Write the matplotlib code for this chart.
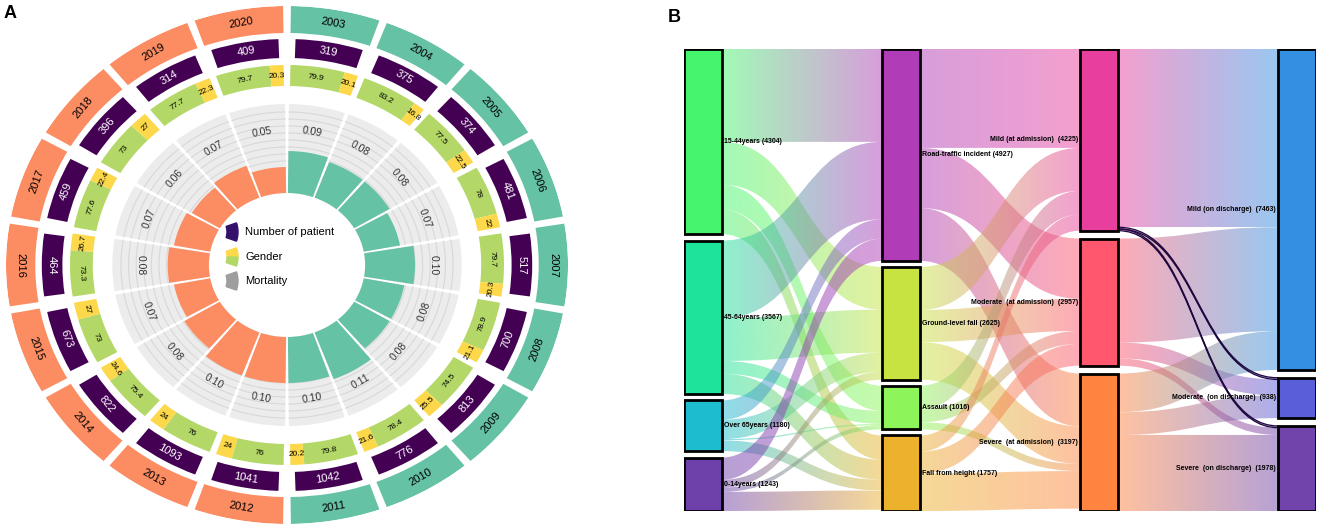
import numpy as np
import matplotlib.pyplot as plt
from matplotlib.path import Path
from matplotlib.patches import PathPatch, Rectangle, Wedge
from matplotlib.colors import to_rgb

plt.rcParams['font.family'] = ['Liberation Sans', 'DejaVu Sans']

# ---- panel A data ----
years = list(range(2003, 2021))
patients = [319, 375, 374, 481, 517, 700, 813, 776, 1042,
            1041, 1093, 822, 673, 464, 459, 396, 314, 409]
male = [79.9, 83.2, 77.5, 78, 79.7, 78.9, 74.5, 78.4, 79.8,
        76, 76, 75.4, 73, 73.3, 77.6, 73, 77.7, 79.7]
female = [20.1, 16.8, 22.5, 22, 20.3, 21.1, 25.5, 21.6, 20.2,
          24, 24, 24.6, 27, 26.7, 22.4, 27, 22.3, 20.3]
mortality = [0.09, 0.08, 0.08, 0.07, 0.10, 0.08, 0.08, 0.11, 0.10,
             0.10, 0.10, 0.08, 0.07, 0.08, 0.07, 0.06, 0.07, 0.05]

# ---- panel B data ----
age_names = ['15-44years', '45-64years', 'Over 65years', '0-14years']
age_vals = [4304, 3567, 1180, 1243]
cause_names = ['Road-traffic incident', 'Ground-level fall', 'Assault', 'Fall from height']
cause_vals = [4927, 2625, 1016, 1757]
adm_names = ['Mild (at admission) ', 'Moderate  (at admission) ', 'Severe  (at admission) ']
adm_vals = [4225, 2957, 3197]
dis_names = ['Mild (on discharge) ', 'Moderate  (on discharge) ', 'Severe  (on discharge) ']
dis_vals = [7463, 938, 1978]

# rows = source, cols = target
age_to_cause = [[2160, 995, 586, 563],
                [1800, 1000, 300, 467],
                [450, 450, 30, 250],
                [517, 180, 100, 446]]
cause_to_adm = [[2300, 1400, 1227],
                [1000, 750, 875],
                [550, 300, 166],
                [375, 507, 875]]
adm_to_dis = [[4145, 40, 40],
              [2418, 370, 169],
              [900, 528, 1769]]

node_colors = [['#45f56e', '#1ee39b', '#1dbdcf', '#6e40aa'],
               ['#b03cb8', '#c7e341', '#8df55a', '#ecb22e'],
               ['#e83f9e', '#fe576e', '#fe8440'],
               ['#348fe2', '#5a5ed8', '#7044ab']]

W, H = 1325, 529
fig = plt.figure(figsize=(W / 100, H / 100), dpi=100)


def px_axes(x0, y0, x1, y1, **kw):
    return fig.add_axes([x0 / W, 1 - y1 / H, (x1 - x0) / W, (y1 - y0) / H], **kw)


def tang_rot(phi):
    r = (-phi) % 180
    if r >= 90:
        r -= 180
    return r


# ================= panel A =================
cx, cy, R, sx = 287, 265, 259, 1.085
ax = px_axes(cx - R * sx, cy - R, cx + R * sx, cy + R, projection='polar')
ax.set_aspect('auto')
ax.set_theta_zero_location('N')
ax.set_theta_direction(-1)
ax.set_axis_off()

n = len(years)
phi = 10 + 20 * np.arange(n)
theta = np.deg2rad(phi)
sec_cols = ['#66c2a5' if y <= 2011 else '#fc8d62' for y in years]

# year ring
ax.bar(theta, 27, width=np.deg2rad(18.4), bottom=232, color=sec_cols)
# patient ring
ax.bar(theta, 19, width=np.deg2rad(16), bottom=207, color='#440154')
# gender ring
share = np.array(male) / (np.array(male) + np.array(female))
span_g = 18.2
start = phi - span_g / 2
m_w = span_g * share
f_w = span_g - m_w
m_c = start + m_w / 2
f_c = start + m_w + f_w / 2
ax.bar(np.deg2rad(m_c), 21, width=np.deg2rad(m_w), bottom=179, color='#b3d867')
ax.bar(np.deg2rad(f_c), 21, width=np.deg2rad(f_w), bottom=179, color='#fcd84a')

# mortality background and grid
ax.bar(theta, 161 - 72, width=np.deg2rad(18.7), bottom=72, color='#ececec', zorder=1)
for p in phi:
    tt = np.deg2rad(np.linspace(p - 9.35, p + 9.35, 40))
    for rr in [104, 111, 118, 125, 132, 139, 146, 153]:
        ax.plot(tt, np.full_like(tt, rr), color='#d8d8d8', lw=0.8, zorder=1.5)
ax.bar(theta, 6 + 400 * np.array(mortality), width=np.deg2rad(18.7), bottom=72,
       color=sec_cols, zorder=2)
ax.set_ylim(0, R)

for k in range(n):
    rot = tang_rot(phi[k])
    ax.text(theta[k], 245.5, str(years[k]), rotation=rot, rotation_mode='anchor',
            ha='center', va='center', fontsize=8, color='black')
    ax.text(theta[k], 216.5, str(patients[k]), rotation=rot, rotation_mode='anchor',
            ha='center', va='center', fontsize=8, color='white')
    ax.text(theta[k], 135, f'{mortality[k]:.2f}', rotation=rot, rotation_mode='anchor',
            ha='center', va='center', fontsize=7.5, color='#333333', zorder=3)
    ax.text(np.deg2rad(m_c[k]), 189.5, f'{male[k]:g}', rotation=tang_rot(m_c[k]),
            rotation_mode='anchor', ha='center', va='center', fontsize=6)
    ax.text(np.deg2rad(f_c[k]), 189.5, f'{female[k]:g}', rotation=tang_rot(f_c[k]),
            rotation_mode='anchor', ha='center', va='center', fontsize=6)

# overlay in pixel coordinates: panel letters and legend
ov = px_axes(0, 0, W, H)
ov.set_xlim(0, W)
ov.set_ylim(H, 0)
ov.set_axis_off()
ov.text(4, 14, 'A', fontsize=13, fontweight='bold', va='center')
ov.text(668, 18, 'B', fontsize=13, fontweight='bold', va='center')

leg_items = ['Number of patient', 'Gender', 'Mortality']
leg_y = [232, 257, 281]
ic_x, ic_r = 210, 28
ov.add_patch(Wedge((ic_x, leg_y[0]), ic_r, -19, 19, width=11, color='#35106a'))
ov.add_patch(Wedge((ic_x, leg_y[1]), ic_r, -19, 0, width=11, color='#fcd84a'))
ov.add_patch(Wedge((ic_x, leg_y[1]), ic_r, 0, 19, width=11, color='#b3d867'))
ov.add_patch(Wedge((ic_x, leg_y[2]), ic_r, -19, 19, width=11, color='#9e9e9e'))
for lbl, yy in zip(leg_items, leg_y):
    ov.text(245, yy, lbl, fontsize=8, va='center', ha='left')

# ================= panel B =================
sk = px_axes(684, 49, 1316, 511)
node_w = 38 / 198
span = 10744
sk.set_axis_off()

cols_names = [age_names, cause_names, adm_names, dis_names]
cols_vals = [age_vals, cause_vals, adm_vals, dis_vals]
flows = [age_to_cause, cause_to_adm, adm_to_dis]

tops = []
for v in cols_vals:
    v = np.array(v, float)
    gap = (span - v.sum()) / (len(v) - 1)
    tops.append(np.concatenate([[0], np.cumsum(v[:-1] + gap)]))


def ribbon(x0, x1, a0, b0, a1, b1, c0, c1, alpha=0.5, edge=None):
    xm = (x0 + x1) / 2
    verts = [(x0, a0), (xm, a0), (xm, a1), (x1, a1), (x1, b1),
             (xm, b1), (xm, b0), (x0, b0), (x0, a0)]
    codes = [Path.MOVETO, Path.CURVE4, Path.CURVE4, Path.CURVE4, Path.LINETO,
             Path.CURVE4, Path.CURVE4, Path.CURVE4, Path.CLOSEPOLY]
    path = Path(verts, codes)
    clip = PathPatch(path, facecolor='none', edgecolor='none')
    sk.add_patch(clip)
    t = np.linspace(0, 1, 64)[:, None]
    grad = np.ones((1, 64, 4))
    grad[0, :, :3] = (1 - t) * np.array(to_rgb(c0)) + t * np.array(to_rgb(c1))
    grad[0, :, 3] = alpha
    lo, hi = min(a0, a1), max(b0, b1)
    im = sk.imshow(grad, extent=[x0, x1, hi, lo], aspect='auto',
                   interpolation='bilinear', zorder=1)
    im.set_clip_path(clip)
    if edge is not None:
        sk.add_patch(PathPatch(path, facecolor='none', edgecolor=edge, lw=0.9, zorder=1.5))


for c, F in enumerate(flows):
    F = np.array(F, float)
    out_start = tops[c][:, None] + np.cumsum(F, axis=1) - F
    in_start = tops[c + 1][None, :] + np.cumsum(F, axis=0) - F
    for s in range(F.shape[0]):
        for t in range(F.shape[1]):
            v = F[s, t]
            # the tiny admission -> discharge links carry a dark outline
            edge = '#1e0840' if (c == 2 and v < 100) else None
            ribbon(c + node_w, c + 1, out_start[s, t], out_start[s, t] + v,
                   in_start[s, t], in_start[s, t] + v,
                   node_colors[c][s], node_colors[c + 1][t], edge=edge)

for c in range(4):
    for k, (nm, v) in enumerate(zip(cols_names[c], cols_vals[c])):
        sk.add_patch(Rectangle((c, tops[c][k]), node_w, v, facecolor=node_colors[c][k],
                               edgecolor='black', lw=2, zorder=3))
        ymid = tops[c][k] + v / 2
        label = f'{nm} ({v})'
        if c < 2:
            sk.text(c + node_w + 0.01, ymid, label, ha='left', va='center',
                    fontsize=5, fontweight='bold', zorder=4)
        else:
            sk.text(c - 0.01, ymid, label, ha='right', va='center',
                    fontsize=5, fontweight='bold', zorder=4)

sk.set_xlim(0, 3 + node_w)
sk.set_ylim(span, 0)

fig.savefig('out.png', dpi=100)
